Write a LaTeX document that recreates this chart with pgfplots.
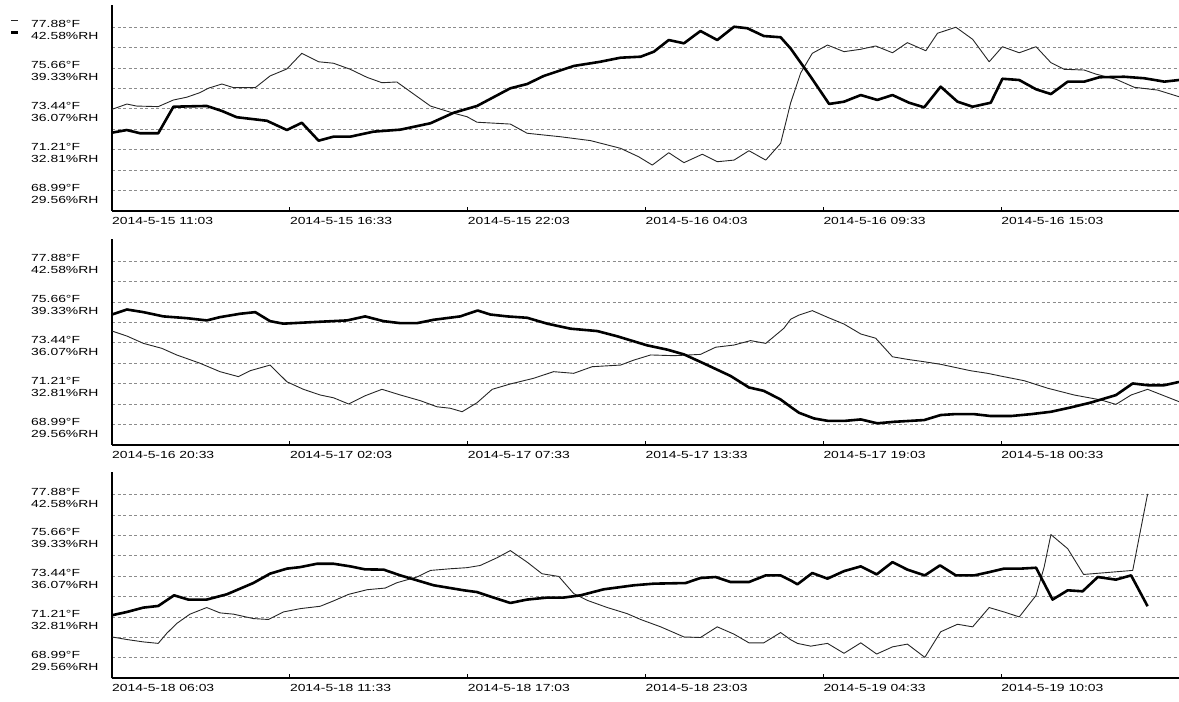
\documentclass[border=0pt]{standalone}
\usepackage{fontspec}
\setmainfont{Liberation Sans}[FakeStretch=1.35]
\usepackage{pgfplots}
\usepackage{pgfplotstable}
\pgfplotsset{compat=1.18}

% Panel 1: temperature (degF) and humidity (%RH), x = hours from panel start
\pgfplotstableread{
t v
0.00 73.41
0.46 73.70
0.76 73.59
1.43 73.56
1.90 73.92
2.31 74.07
2.72 74.32
2.98 74.56
3.40 74.79
3.76 74.59
4.43 74.59
4.89 75.23
5.41 75.61
5.87 76.46
6.39 76.00
6.85 75.92
7.37 75.59
7.89 75.15
8.35 74.86
8.81 74.90
9.23 74.37
9.85 73.59
10.57 73.20
10.98 73.01
11.29 72.71
12.32 72.61
12.84 72.11
13.87 71.92
14.80 71.71
15.73 71.29
16.29 70.83
16.71 70.38
17.22 71.05
17.69 70.51
18.26 70.97
18.72 70.56
19.24 70.65
19.70 71.16
20.22 70.65
20.68 71.56
20.99 73.76
21.30 75.39
21.66 76.46
22.13 76.91
22.64 76.55
23.16 76.68
23.62 76.86
24.14 76.49
24.60 77.04
25.17 76.60
25.53 77.55
26.10 77.88
26.62 77.22
27.13 76.00
27.54 76.82
28.06 76.49
28.58 76.82
29.04 75.95
29.45 75.59
30.07 75.55
30.43 75.33
31.05 75.05
31.62 74.61
32.34 74.46
33.00 74.10
}\TA
\pgfplotstableread{
t v
0.00 34.18
0.46 34.39
0.87 34.13
1.43 34.13
1.90 36.25
2.93 36.31
3.40 35.91
3.86 35.41
4.79 35.13
5.41 34.39
5.87 34.97
6.39 33.54
6.85 33.86
7.37 33.86
8.09 34.26
8.92 34.42
9.85 34.93
10.57 35.77
11.29 36.31
12.32 37.72
12.84 38.06
13.35 38.70
14.28 39.50
15.11 39.84
15.73 40.16
16.35 40.24
16.76 40.64
17.22 41.57
17.69 41.31
18.20 42.29
18.72 41.57
19.24 42.63
19.65 42.51
20.16 41.89
20.68 41.79
20.99 40.89
21.61 38.64
22.18 36.47
22.64 36.65
23.16 37.18
23.67 36.79
24.14 37.18
24.65 36.57
25.12 36.20
25.63 37.85
26.15 36.65
26.62 36.25
27.18 36.57
27.54 38.48
28.06 38.38
28.58 37.64
29.04 37.26
29.56 38.25
30.07 38.25
30.54 38.60
31.31 38.64
31.93 38.52
32.55 38.25
33.00 38.38
}\HA
% Panel 2
\pgfplotstableread{
t v
0.00 74.08
0.46 73.81
0.97 73.41
1.54 73.14
2.00 72.78
2.72 72.33
3.34 71.87
3.91 71.60
4.27 71.92
4.89 72.23
5.41 71.32
5.92 70.91
6.44 70.60
6.85 70.45
7.32 70.11
7.83 70.56
8.35 70.91
8.92 70.60
9.54 70.29
10.05 69.96
10.46 69.88
10.83 69.69
11.29 70.18
11.76 70.91
12.32 71.20
13.04 71.51
13.66 71.87
14.28 71.78
14.85 72.14
15.73 72.23
16.14 72.50
16.66 72.78
17.38 72.74
18.20 72.81
18.67 73.20
19.24 73.32
19.75 73.56
20.22 73.41
20.78 74.23
20.99 74.72
21.25 74.95
21.66 75.19
22.13 74.83
22.64 74.46
23.16 73.92
23.62 73.69
24.14 72.68
24.60 72.54
25.12 72.41
25.63 72.27
26.56 71.92
27.08 71.78
27.49 71.63
28.21 71.38
28.94 70.97
29.76 70.60
30.59 70.33
31.05 70.09
31.52 70.60
32.03 70.91
33.00 70.24
}\TB
\pgfplotstableread{
t v
0.00 38.34
0.46 38.74
0.97 38.53
1.59 38.19
2.31 38.05
2.93 37.87
3.34 38.13
3.96 38.40
4.43 38.53
4.89 37.81
5.30 37.61
6.03 37.71
7.27 37.87
7.83 38.19
8.40 37.81
8.92 37.65
9.43 37.65
9.95 37.92
10.77 38.19
11.31 38.66
11.70 38.34
12.22 38.19
12.84 38.08
13.46 37.61
14.18 37.21
15.01 37.02
15.63 36.60
16.55 35.88
17.17 35.54
17.69 35.16
18.31 34.43
19.13 33.44
19.70 32.52
20.16 32.25
20.68 31.56
20.99 30.97
21.25 30.50
21.71 30.05
22.13 29.86
22.69 29.86
23.16 29.97
23.67 29.66
24.19 29.78
25.12 29.92
25.63 30.32
26.05 30.39
26.67 30.39
27.18 30.24
27.80 30.24
28.42 30.39
29.04 30.58
29.66 30.93
30.28 31.32
31.05 31.91
31.57 32.84
32.03 32.70
32.55 32.70
33.00 32.96
}\HB
% Panel 3
\pgfplotstableread{
t v
0.00 70.13
0.46 69.99
0.97 69.86
1.43 69.78
1.69 70.32
2.00 70.86
2.41 71.37
2.93 71.73
3.34 71.44
3.76 71.37
4.37 71.13
4.84 71.08
5.30 71.49
5.82 71.67
6.44 71.80
6.85 72.09
7.32 72.45
7.89 72.70
8.45 72.79
8.81 73.08
9.43 73.39
9.85 73.75
10.46 73.84
10.98 73.90
11.39 74.02
11.91 74.44
12.32 74.83
12.84 74.20
13.30 73.57
13.82 73.42
14.28 72.49
14.70 72.12
15.32 71.73
15.93 71.40
16.35 71.08
16.97 70.68
17.69 70.13
18.20 70.10
18.72 70.68
19.24 70.28
19.70 69.81
20.16 69.81
20.68 70.37
20.99 69.98
21.20 69.78
21.61 69.63
22.13 69.78
22.64 69.24
23.16 69.81
23.65 69.20
24.14 69.59
24.60 69.74
25.14 69.02
25.63 70.41
26.15 70.82
26.62 70.68
27.13 71.73
27.59 71.49
28.06 71.22
28.58 72.39
28.83 73.93
29.04 75.70
29.56 74.93
30.05 73.53
31.57 73.75
32.03 77.91
}\TC
\pgfplotstableread{
t v
0.00 32.96
0.46 33.22
0.97 33.57
1.43 33.70
1.92 34.55
2.36 34.21
2.93 34.21
3.55 34.63
4.37 35.53
4.89 36.28
5.41 36.68
5.82 36.80
6.34 37.07
6.85 37.07
7.37 36.86
7.83 36.62
8.40 36.60
8.92 36.14
9.95 35.35
10.88 34.95
11.29 34.81
11.80 34.37
12.32 33.94
12.84 34.21
13.46 34.37
13.97 34.37
14.49 34.55
15.21 35.03
16.14 35.35
16.76 35.48
17.74 35.53
18.20 35.93
18.67 36.01
19.13 35.61
19.70 35.61
20.22 36.14
20.68 36.14
20.99 35.74
21.20 35.43
21.66 36.33
22.13 35.88
22.64 36.48
23.16 36.86
23.65 36.22
24.14 37.20
24.60 36.60
25.14 36.14
25.61 36.94
26.10 36.14
26.67 36.14
27.13 36.40
27.59 36.68
28.11 36.68
28.58 36.75
29.09 34.21
29.56 34.95
30.02 34.87
30.49 36.01
31.05 35.80
31.52 36.14
32.03 33.68
}\HC

\pgfplotsset{
  panel/.style={
    scale only axis, width=1067pt, height=206.2pt,
    anchor=south west,
    xmin=0, xmax=33, ymin=67.88, ymax=79.1,
    axis x line*=bottom, axis y line*=left,
    axis line style={line width=2.4pt, -},
    xtick={0,5.5,11,16.5,22,27.5},
    ytick={68.99,70.10,71.21,72.32,73.44,74.55,75.66,76.77,77.88},
    yticklabels={{68.99°F\\29.56\%RH},,{71.21°F\\32.81\%RH},,{73.44°F\\36.07\%RH},,{75.66°F\\39.33\%RH},,{77.88°F\\42.58\%RH}},
    ymajorgrids,
    major grid style={black!45, dash pattern=on 3pt off 2.5pt, line width=0.8pt},
    ytick style={draw=none},
    xtick style={black, line width=1pt},
    tick align=inside, major tick length=4pt,
    tick label style={font=\fontsize{10.3}{12}\selectfont},
    xticklabel style={anchor=north west, inner sep=0pt, yshift=-6pt},
    yticklabel style={anchor=west, align=left, inner sep=0pt, xshift=-81pt, yshift=-3pt},
  },
  thinline/.style={black!85, line width=0.9pt, line join=round},
  thickline/.style={black, line width=2.6pt, line join=round},
}
\newcommand{\rh}{67.88+(\thisrow{v}-27.93)*0.682028}

\begin{document}
\begin{tikzpicture}
\useasboundingbox (0,0) rectangle (1179pt,702pt);
\begin{axis}[panel, at={(112pt,491pt)},
  xticklabels={2014-5-15 11:03,2014-5-15 16:33,2014-5-15 22:03,2014-5-16 04:03,2014-5-16 09:33,2014-5-16 15:03},
  legend style={draw=none, fill=none, inner sep=0pt, outer sep=0pt, row sep=0pt,
    at={(-0.0956,0.952)}, anchor=north west,
    nodes={inner sep=0pt, text height=8pt, text depth=4pt}},
  legend image code/.code={\draw[#1] (0pt,0pt) -- (7pt,0pt);},
]
\addplot[thinline] table[x=t, y=v] {\TA};
\addlegendentry{\mbox{}}
\addplot[thickline] table[x=t, y expr={\rh}] {\HA};
\addlegendentry{\mbox{}}
\end{axis}
\begin{axis}[panel, at={(112pt,257pt)},
  xticklabels={2014-5-16 20:33,2014-5-17 02:03,2014-5-17 07:33,2014-5-17 13:33,2014-5-17 19:03,2014-5-18 00:33},
]
\addplot[thinline] table[x=t, y=v] {\TB};
\addplot[thickline] table[x=t, y expr={\rh}] {\HB};
\end{axis}
\begin{axis}[panel, at={(112pt,23.7pt)},
  xticklabels={2014-5-18 06:03,2014-5-18 11:33,2014-5-18 17:03,2014-5-18 23:03,2014-5-19 04:33,2014-5-19 10:03},
]
\addplot[thinline] table[x=t, y=v] {\TC};
\addplot[thickline] table[x=t, y expr={\rh}] {\HC};
\end{axis}
\end{tikzpicture}
\end{document}
